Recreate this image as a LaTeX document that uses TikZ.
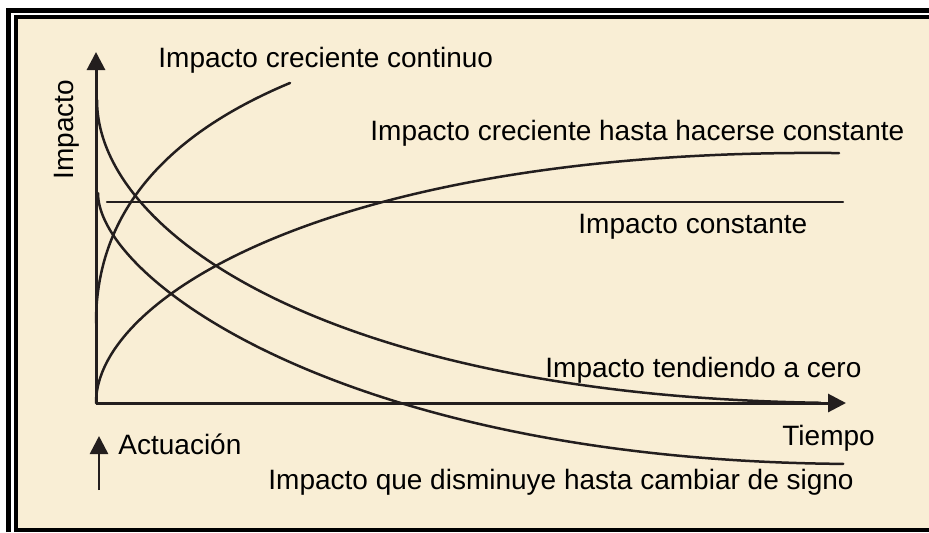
\documentclass[tikz,border=0pt]{standalone}
\usepackage{fontspec}
\setmainfont{Liberation Sans}
\usetikzlibrary{arrows.meta}
\definecolor{parch}{RGB}{249,238,213}
\definecolor{ink}{RGB}{35,30,30}
\tikzset{
  axis/.style={ink, line width=1.5pt, -{Triangle[length=9pt,width=9pt]}},
  curve/.style={ink, line width=1.25pt, line cap=round, line join=round},
  lbl/.style={inner sep=0pt, anchor=base west, font=\fontsize{14}{16}\selectfont, text=black},
}
\begin{document}
\begin{tikzpicture}[x=0.5pt,y=-0.5pt]
\useasboundingbox (0,0) rectangle (929,532);
\fill[white] (0,0) rectangle (929,532);
% frame
\draw[black, line width=2.5pt] (8.5,532) -- (8.5,10) -- (929,10);
\fill[parch] (16,17) rectangle (929,530);
\draw[black, line width=2pt] (929,530) -- (16,530) -- (16,17) -- (929,17);
% axes
\coordinate (O) at (96,403);
\coordinate (Ytop) at (96,52);
\coordinate (Xend) at (846,403);
\draw[axis] (O) -- (Ytop);
\draw[axis] (O) -- (Xend);
% constant
\coordinate (c1) at (107,202);
\coordinate (c2) at (843,202);
\draw[curve, line width=1.1pt] (c1) -- (c2);
% creciente continuo
\draw[curve] plot[domain=0:13.93, samples=80, variable=\s]
  ({96+\s*\s},{323-(22.84*\s-0.4025*\s*\s)});
% creciente hasta hacerse constante
\draw[curve] plot[domain=0:27.26, samples=140, variable=\s]
  ({96+\s*\s},{403-(12.01*\s+0.1495*\s*\s-0.00931*\s*\s*\s)});
% tendiendo a cero
\draw[curve] plot[domain=0:26.9, samples=140, variable=\s]
  ({97+\s*\s},{403-(27.5-\s)*(27.5-\s)*(0.4007+0.00898*\s)});
% cambiar de signo
\draw[curve] plot[domain=0:27.3, samples=140, variable=\s]
  ({98+\s*\s},{403-(210-9.548*\s-0.3753*\s*\s+0.01324*\s*\s*\s)});
% actuacion arrow
\coordinate (a1) at (99,490);
\coordinate (a2) at (99,436);
\draw[axis, line width=1.3pt] (a1) -- (a2);
% labels
\node[lbl] (l1) at (158,67) {Impacto creciente continuo};
\node[lbl] (l2) at (370,140) {Impacto creciente hasta hacerse constante};
\node[lbl] (l3) at (578,233) {Impacto constante};
\node[lbl] (l4) at (545,377) {Impacto tendiendo a cero};
\node[lbl] (l5) at (782,445) {Tiempo};
\node[lbl] (l6) at (268,489) {Impacto que disminuye hasta cambiar de signo};
\node[lbl] (l7) at (118,454) {Actuación};
\node[lbl, rotate=90] (l8) at (73,180) {Impacto};
\end{tikzpicture}
\end{document}
